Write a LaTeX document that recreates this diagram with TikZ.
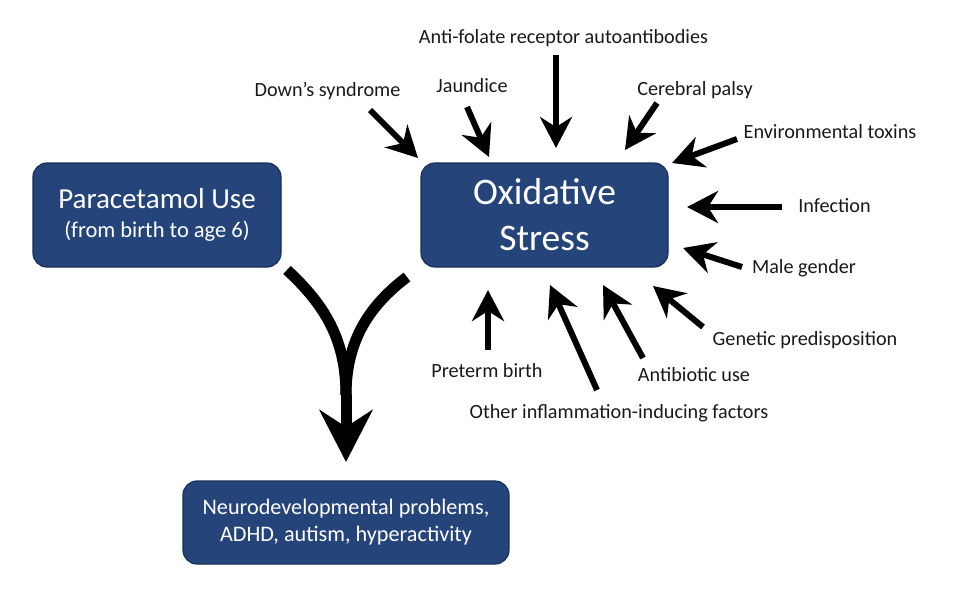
\documentclass[tikz,border=0pt]{standalone}
\usepackage{fontspec}
\setmainfont{Carlito}
\usetikzlibrary{arrows.meta}
\definecolor{boxblue}{RGB}{37,68,122}
\definecolor{boxedge}{RGB}{24,46,86}
\definecolor{lbltext}{RGB}{25,25,25}
\begin{document}
\begin{tikzpicture}[x=1pt,y=-1pt,
  box/.style={draw=boxedge, line width=1.2pt, fill=boxblue, rounded corners=14pt,
              text=white, align=center, inner sep=0pt},
  lbl/.style={anchor=base, font=\fontsize{20.2}{23}\selectfont, text=lbltext, inner sep=0pt},
  cause/.style={line width=6pt, -{Stealth[length=31pt,width=32pt,inset=10pt]}},
  big/.style={line width=11pt},
]
\useasboundingbox (0,0) rectangle (970,603);

% boxes
\node[box, minimum width=248pt, minimum height=104pt, font=\fontsize{29}{29}\selectfont] (para) at (157,215)
  {Paracetamol Use\\{\fontsize{22.5}{30}\selectfont (from birth to age 6)}};
\node[box, minimum width=247pt, minimum height=104pt, font=\fontsize{37.5}{46}\selectfont] (ox) at (544.5,215)
  {Oxidative\\Stress};
\node[box, minimum width=326pt, minimum height=83pt, font=\fontsize{22.2}{27}\selectfont] (neuro) at (346,522.5)
  {Neurodevelopmental problems,\\ADHD, autism, hyperactivity};

% labels
\node[lbl] (antifol) at (563.5,43) {Anti-folate receptor autoantibodies};
\node[lbl] (down) at (327.5,96) {Down’s syndrome};
\node[lbl] (jaun) at (472,92) {Jaundice};
\node[lbl] (cereb) at (695,95) {Cerebral palsy};
\node[lbl] (envtox) at (830,138) {Environmental toxins};
\node[lbl] (infect) at (834.5,212) {Infection};
\node[lbl] (male) at (804,273) {Male gender};
\node[lbl] (genet) at (805,345) {Genetic predisposition};
\node[lbl] (antib) at (694,381) {Antibiotic use};
\node[lbl] (preterm) at (487,377) {Preterm birth};
\node[lbl] (other) at (619,418) {Other inflammation-inducing factors};

% arrow ends
\coordinate (t1) at (370,110); \coordinate (h1) at (418,158);
\coordinate (t2) at (467,107); \coordinate (h2) at (489,157);
\coordinate (t3) at (556,55);  \coordinate (h3) at (556,148);
\coordinate (t4) at (657,103); \coordinate (h4) at (625,150);
\coordinate (t5) at (737,139); \coordinate (h5) at (672,163);
\coordinate (t6) at (782,207); \coordinate (h6) at (687,207);
\coordinate (t7) at (742,267); \coordinate (h7) at (683,248);
\coordinate (t8) at (703,327); \coordinate (h8) at (653,286);
\coordinate (t9) at (643,358); \coordinate (h9) at (603,285);
\coordinate (t10) at (597,390); \coordinate (h10) at (550,285);
\coordinate (t11) at (488,350); \coordinate (h11) at (488,290);

\foreach \i in {1,...,11} { \draw[cause] (t\i) -- (h\i); }

% big merging arrow
\coordinate (pstart) at (287,270);
\coordinate (ostart) at (407,277);
\coordinate (merge) at (346,395);
\coordinate (tip) at (346,462);
\draw[big] (pstart) .. controls (325,305) and (346,340) .. (merge);
\draw[big] (ostart) .. controls (370,305) and (346,340) .. (merge);
\draw[big, -{Stealth[length=52pt,width=53pt,inset=17pt]}] (merge) -- (tip);
\end{tikzpicture}
\end{document}
